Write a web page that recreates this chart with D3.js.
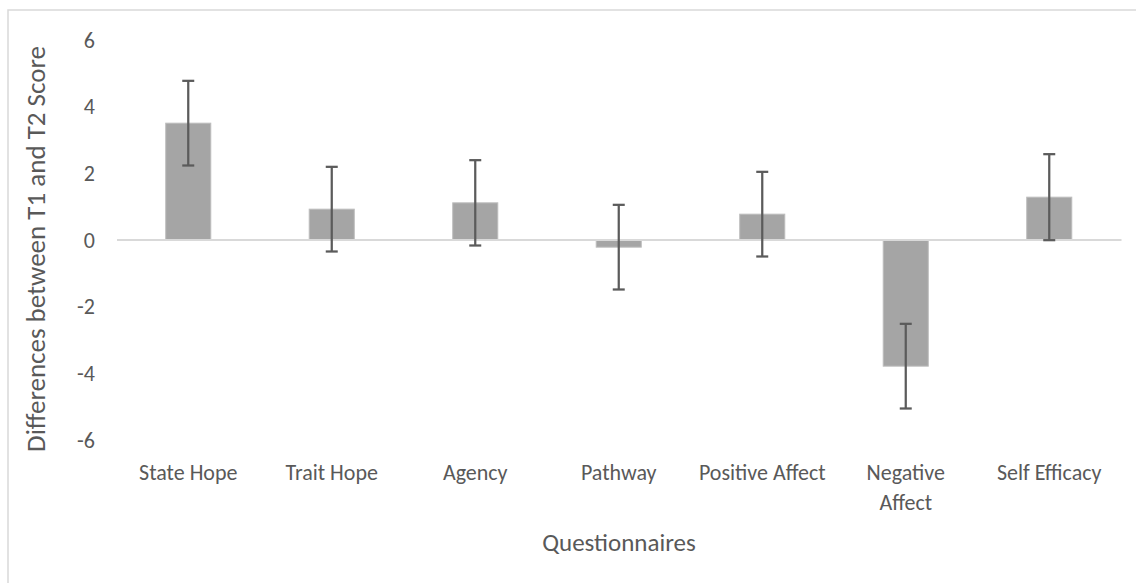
<!DOCTYPE html>
<html>
<head>
<meta charset="utf-8">
<script src="https://cdn.jsdelivr.net/npm/d3@7/dist/d3.min.js"></script>
<style>
  html, body { margin: 0; padding: 0; background: #fff; }
  svg { display: block; }
  text { font-family: Carlito, Lato, "Open Sans", sans-serif; fill: #595959; }
</style>
</head>
<body>
<svg id="chart" width="1136" height="583"></svg>
<script>
const categories = ["State Hope", "Trait Hope", "Agency", "Pathway", "Positive Affect", "Negative Affect", "Self Efficacy"];
const values = [3.49, 0.91, 1.10, -0.23, 0.76, -3.80, 1.27];
const errors = [1.27, 1.27, 1.28, 1.27, 1.27, 1.27, 1.29];
const yTicks = [-6, -4, -2, 0, 2, 4, 6];
const yTitle = "Differences between T1 and T2 Score";
const xTitle = "Questionnaires";

const svg = d3.select("#chart");
const W = 1136, H = 583;

// outer frame
svg.append("rect")
  .attr("x", 8).attr("y", 10)
  .attr("width", W + 20).attr("height", H + 20)
  .attr("fill", "none").attr("stroke", "#d9d9d9").attr("stroke-width", 1.5);

const x = d3.scaleBand()
  .domain(categories)
  .range([116.5, 1121])
  .paddingInner(0.686)
  .paddingOuter(0.343);

const y = d3.scaleLinear().domain([-6, 6]).range([439.5, 39.5]);

// bars
svg.append("g").selectAll("rect")
  .data(categories)
  .join("rect")
  .attr("x", d => x(d))
  .attr("width", x.bandwidth())
  .attr("y", (d, i) => y(Math.max(0, values[i])))
  .attr("height", (d, i) => Math.abs(y(values[i]) - y(0)))
  .attr("fill", "#a5a5a5")
  .attr("stroke", "#bdbdbd")
  .attr("stroke-width", 1);

// zero axis line
const xAxis = d3.axisBottom(x).tickSize(0).tickFormat("");
const gx = svg.append("g").attr("transform", `translate(0,${y(0)})`).call(xAxis);
gx.select(".domain").attr("stroke", "#d9d9d9").attr("stroke-width", 2);

// error bars
const eg = svg.append("g").attr("stroke", "#5b5b5b").attr("stroke-width", 2.25);
categories.forEach((c, i) => {
  const cx = x(c) + x.bandwidth() / 2;
  const hi = y(values[i] + errors[i]);
  const lo = y(values[i] - errors[i]);
  eg.append("line").attr("x1", cx).attr("x2", cx).attr("y1", hi).attr("y2", lo);
  eg.append("line").attr("x1", cx - 6).attr("x2", cx + 6).attr("y1", hi).attr("y2", hi);
  eg.append("line").attr("x1", cx - 6).attr("x2", cx + 6).attr("y1", lo).attr("y2", lo);
});

// y axis tick labels
const yAxis = d3.axisLeft(y).tickValues(yTicks).tickSize(0).tickPadding(0)
  .tickFormat(d => String(d));
const gy = svg.append("g").attr("transform", "translate(95,0)").call(yAxis);
gy.select(".domain").remove();
gy.selectAll("text")
  .attr("font-family", null)
  .style("font-size", "22px")
  .attr("fill", null)
  .attr("dy", "0.35em");

// x category labels
const labelY = 480;
const xl = svg.append("g");
categories.forEach(c => {
  const cx = x(c) + x.bandwidth() / 2;
  const t = xl.append("text").attr("x", cx).attr("y", labelY)
    .attr("text-anchor", "middle").style("font-size", "22px");
  const lines = c === "Negative Affect" ? ["Negative", "Affect"] : [c];
  lines.forEach((ln, k) => {
    t.append("tspan").attr("x", cx).attr("dy", k === 0 ? 0 : 30).text(ln);
  });
});

// axis titles
svg.append("text")
  .attr("x", 619).attr("y", 551)
  .attr("text-anchor", "middle")
  .style("font-size", "25px")
  .text(xTitle);

svg.append("text")
  .attr("transform", "translate(45,249) rotate(-90)")
  .attr("text-anchor", "middle")
  .style("font-size", "27px")
  .text(yTitle);
</script>
</body>
</html>
